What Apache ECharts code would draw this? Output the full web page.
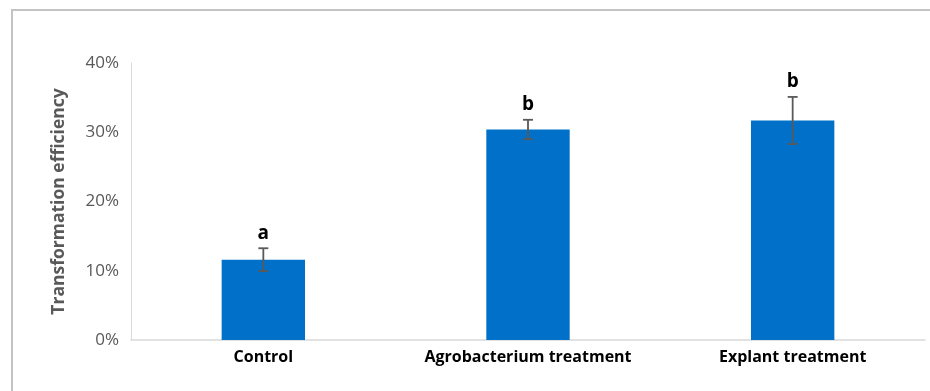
<!DOCTYPE html>
<html><head><meta charset="utf-8">
<script src="https://cdn.jsdelivr.net/npm/echarts@6/dist/echarts.min.js"></script>
<style>html,body{margin:0;padding:0;background:#fff}#c{width:930px;height:391px}
#frame{position:absolute;left:11px;top:9px;width:930px;height:400px;border-left:2px solid #c3c3c3;border-top:2px solid #c3c3c3;pointer-events:none}</style>
</head><body><div id="c"></div><div id="frame"></div>
<script>
var categories = ['Control', 'Agrobacterium treatment', 'Explant treatment'];
var values = [11.6, 30.4, 31.7];
var errors = [1.65, 1.4, 3.4];
var letters = ['a', 'b', 'b'];
var yTicks = [0, 10, 20, 30, 40];

var chart = echarts.init(document.getElementById('c'));
chart.setOption({
  animation: false,
  grid: {left: 131, right: 5, top: 63, bottom: 51},
  xAxis: {
    type: 'category', data: categories,
    axisLine: {lineStyle: {color: '#d9d9d9', width: 1.5}},
    axisTick: {show: false},
    axisLabel: {interval: 0, hideOverlap: false, color: '#000', fontWeight: 'bold', fontSize: 16, fontFamily: 'Open Sans', margin: 9}
  },
  yAxis: {
    type: 'value', min: yTicks[0], max: yTicks[yTicks.length - 1], interval: 10,
    name: 'Transformation efficiency', nameLocation: 'middle', nameGap: 63,
    nameTextStyle: {color: '#595959', fontWeight: 'bold', fontSize: 17.5, fontFamily: 'Open Sans'},
    axisLine: {show: true, lineStyle: {color: '#d9d9d9'}},
    axisTick: {show: false},
    splitLine: {show: false},
    axisLabel: {color: '#595959', fontSize: 17, fontFamily: 'Open Sans', margin: 12, formatter: '{value}%'}
  },
  series: [{
    type: 'bar', data: values, barWidth: '31.5%',
    itemStyle: {color: '#0070c8'}
  }, {
    type: 'custom',
    data: values.map(function (v, i) { return [i, v, errors[i], letters[i]]; }),
    renderItem: function (params, api) {
      var i = api.value(0), v = api.value(1), e = api.value(2);
      var top = api.coord([i, v + e]), bot = api.coord([i, v - e]);
      var x = top[0], w = 5;
      var st = {stroke: '#595959', lineWidth: 1.8};
      return {type: 'group', children: [
        {type: 'line', shape: {x1: x, y1: top[1], x2: x, y2: bot[1]}, style: st},
        {type: 'line', shape: {x1: x - w, y1: top[1], x2: x + w, y2: top[1]}, style: st},
        {type: 'line', shape: {x1: x - w, y1: bot[1], x2: x + w, y2: bot[1]}, style: st},
        {type: 'text', x: x, y: top[1] - 15, style: {text: letters[params.dataIndex], fill: '#000', font: 'bold 19px "Open Sans"', align: 'center', verticalAlign: 'middle'}}
      ]};
    },
    z: 5
  }]
});
</script></body></html>
